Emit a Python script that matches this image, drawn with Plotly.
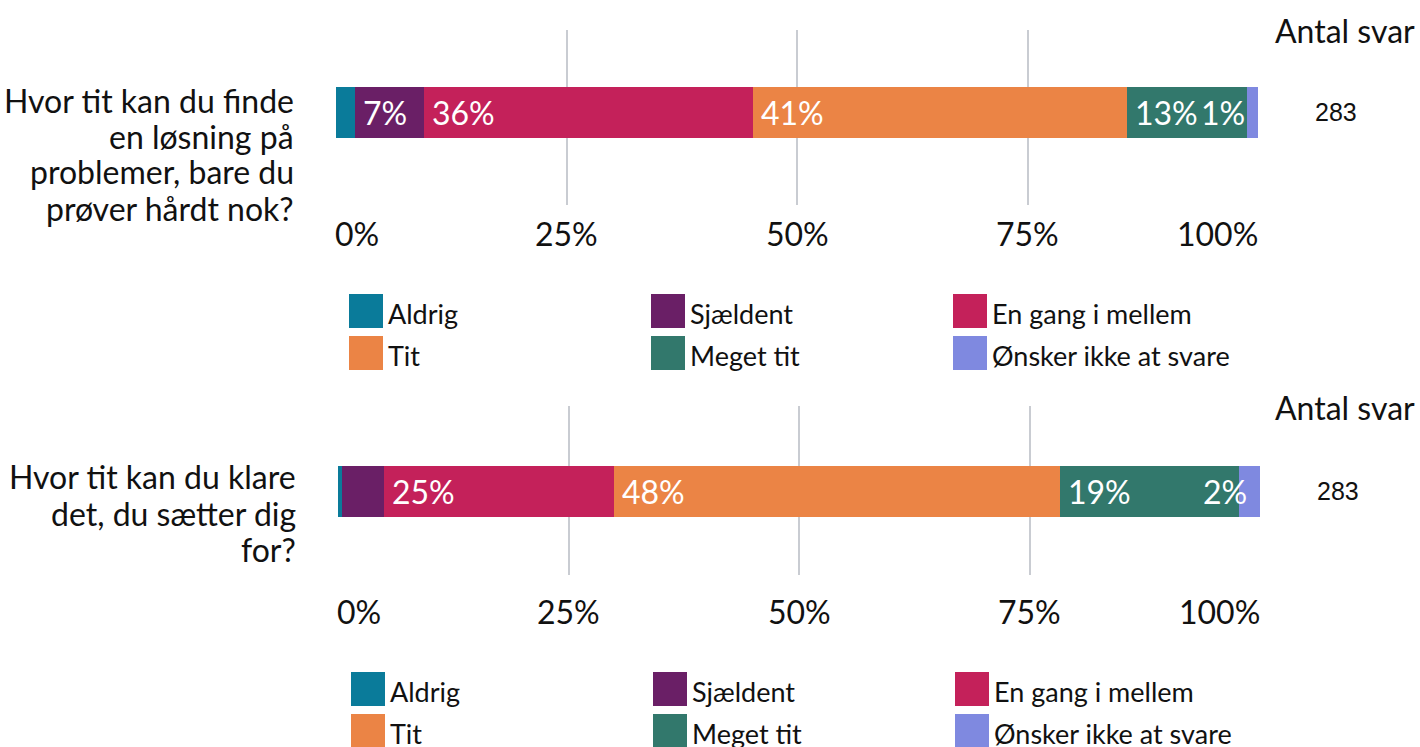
import plotly.graph_objects as go

W, H = 1420, 747

categories = ["Aldrig", "Sjældent", "En gang i mellem", "Tit", "Meget tit", "Ønsker ikke at svare"]
colors = ["#0A7B9A", "#6A1F66", "#C4215A", "#EB8445", "#32786C", "#7F89E0"]

q1_lines = ["Hvor tit kan du finde", "en løsning på", "problemer, bare du", "prøver hårdt nok?"]
q2_lines = ["Hvor tit kan du klare", "det, du sætter dig", "for?"]
q1_values = [2.1, 7.4, 35.7, 40.6, 13.0, 1.2]
q2_values = [0.4, 4.6, 24.9, 48.4, 19.4, 2.3]
q1_labels = ["", "7%", "36%", "41%", "13%", "1%"]
q2_labels = ["", "", "25%", "48%", "19%", "2%"]
answers = [283, 283]
tick_vals = [0, 25, 50, 75, 100]
tick_text = ["0%", "25%", "50%", "75%", "100%"]

FONT = "Lato"
TXT = "#111111"

def px(x):
    return x / W

def py(y):
    return 1 - y / H

fig = go.Figure()

panels = [
    dict(vals=q1_values, labels=q1_labels, q=q1_lines, n=answers[0],
         xa="x", ya="y", x0=336, x1=1258, top=30, bot=205, center=112,
         qx=296, qy0=100, antal_y=30, n_x=1336, leg_x=349, leg_y=311, tick_y=233),
    dict(vals=q2_values, labels=q2_labels, q=q2_lines, n=answers[1],
         xa="x2", ya="y2", x0=338, x1=1260, top=406, bot=575, center=491,
         qx=298, qy0=477, antal_y=407, n_x=1338, leg_x=351, leg_y=689, tick_y=611),
]

annotations = []
shapes = []
BARPX = 51

for pi, p in enumerate(panels):
    for i, (c, v) in enumerate(zip(categories, p["vals"])):
        fig.add_trace(go.Bar(
            x=[v], y=[0], orientation="h", name=c, marker=dict(color=colors[i], line=dict(width=0)),
            width=1, xaxis=p["xa"], yaxis=p["ya"], showlegend=False, hoverinfo="skip"))
    # segment labels
    cum = 0.0
    n = len(p["vals"])
    for i, (v, lab) in enumerate(zip(p["vals"], p["labels"])):
        if lab:
            if i == n - 1:
                annotations.append(dict(x=round(cum + v, 6) - 0.01, y=0, xref=p["xa"], yref=p["ya"], text=lab,
                                        showarrow=False, xanchor="right", xshift=-11,
                                        font=dict(family=FONT, size=32, color="white")))
            else:
                annotations.append(dict(x=round(cum, 6), y=0, xref=p["xa"], yref=p["ya"], text=lab,
                                        showarrow=False, xanchor="left", xshift=6,
                                        font=dict(family=FONT, size=32, color="white")))
        cum += v
    # x tick labels: first left-aligned, last right-aligned, others centred
    for ti, (tv, tt) in enumerate(zip(tick_vals, tick_text)):
        if ti == 0:
            anchor, shift = "left", -3
        elif ti == len(tick_vals) - 1:
            anchor, shift = "right", 2
        else:
            anchor, shift = "center", 0
        annotations.append(dict(x=tv, y=py(p["tick_y"]), xref=p["xa"], yref="paper", text=tt,
                                showarrow=False, xanchor=anchor, xshift=shift, yanchor="middle",
                                font=dict(family=FONT, size=32, color=TXT)))
    # question label, one line at a time
    for li, line in enumerate(p["q"]):
        annotations.append(dict(x=px(p["qx"]), y=py(p["qy0"] + 36 * li), xref="paper", yref="paper",
                                text=line, showarrow=False, xanchor="right", yanchor="middle",
                                font=dict(family=FONT, size=32, color=TXT)))
    annotations.append(dict(x=px(1417), y=py(p["antal_y"]), xref="paper", yref="paper", text="Antal svar",
                            showarrow=False, xanchor="right", yanchor="middle",
                            font=dict(family=FONT, size=32, color=TXT)))
    annotations.append(dict(x=px(p["n_x"]), y=py(p["center"]), xref="paper", yref="paper", text=str(p["n"]),
                            showarrow=False, xanchor="center", yanchor="middle",
                            font=dict(family="Liberation Sans, Arial", size=25, color=TXT)))
    # legend
    for i, c in enumerate(categories):
        col, row = i % 3, i // 3
        lx = p["leg_x"] + col * 302
        ly = p["leg_y"] + row * 42
        shapes.append(dict(type="rect", xref="paper", yref="paper",
                           x0=px(lx), x1=px(lx + 34), y0=py(ly - 17), y1=py(ly + 17),
                           fillcolor=colors[i], line=dict(width=0)))
        annotations.append(dict(x=px(lx + 37), y=py(ly + 2), xref="paper", yref="paper", text=c,
                                showarrow=False, xanchor="left", yanchor="middle",
                                font=dict(family=FONT, size=27, color=TXT)))
    # axes
    top_d, bot_d = py(p["top"]), py(p["bot"])
    up = (p["center"] - p["top"]) / BARPX
    down = (p["bot"] - p["center"]) / BARPX
    xkey = "xaxis" if pi == 0 else "xaxis2"
    ykey = "yaxis" if pi == 0 else "yaxis2"
    fig.update_layout(**{
        xkey: dict(domain=[px(p["x0"]), px(p["x1"])], range=[0, 100], anchor=p["ya"],
                   tickvals=tick_vals, showticklabels=False, showgrid=True, gridcolor="#c9ccd2",
                   gridwidth=1.5, zeroline=False, showline=False, ticks="", automargin=False,
                   fixedrange=True),
        ykey: dict(domain=[bot_d, top_d], range=[-down, up], anchor=p["xa"],
                   showticklabels=False, showgrid=False, zeroline=False, showline=False,
                   automargin=False, fixedrange=True),
    })

fig.update_layout(
    barmode="stack", width=W, height=H, margin=dict(l=0, r=0, t=0, b=0, autoexpand=False),
    paper_bgcolor="white", plot_bgcolor="white", annotations=annotations, shapes=shapes,
    showlegend=False, bargap=0,
)

fig.write_html("out.html", config={"displayModeBar": False})
